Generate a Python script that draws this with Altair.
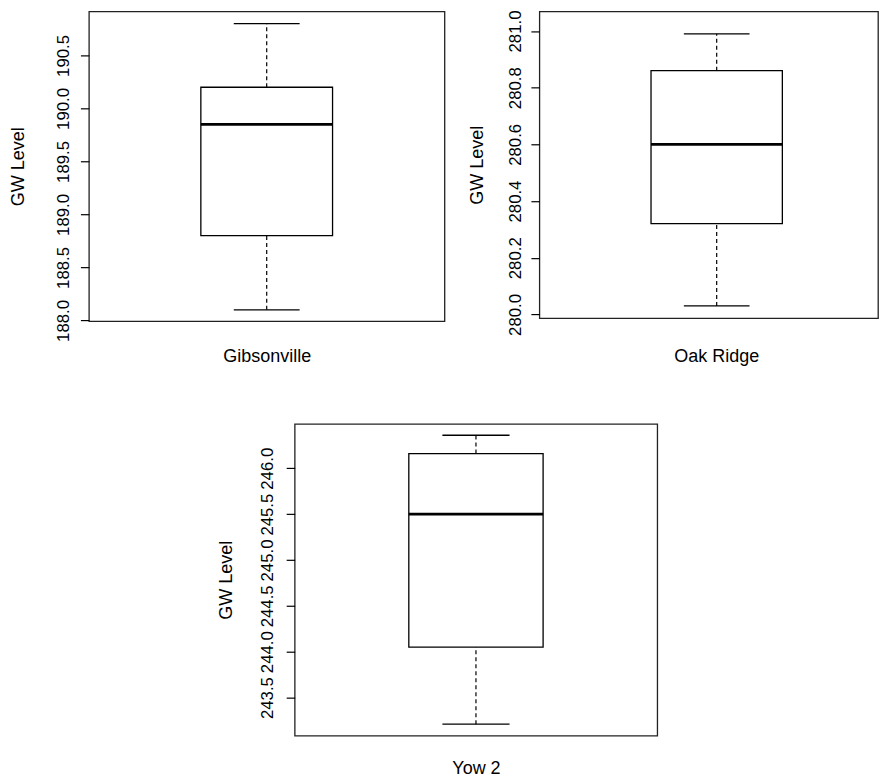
import altair as alt
import pandas as pd

# ---- data (box-plot summary statistics) ----
sites = ["Gibsonville", "Oak Ridge", "Yow 2"]
whisker_low = [188.10, 280.03, 243.21]
q1_vals = [188.80, 280.32, 244.05]
median_vals = [189.85, 280.60, 245.50]
q3_vals = [190.20, 280.86, 246.16]
whisker_high = [190.80, 280.99, 246.36]
tick_values = [
    [188.0, 188.5, 189.0, 189.5, 190.0, 190.5],
    [280.0, 280.2, 280.4, 280.6, 280.8, 281.0],
    [243.5, 244.0, 244.5, 245.0, 245.5, 246.0],
]
y_domains = [[187.994, 190.915], [279.987, 281.069], [243.085, 246.483]]
y_title = "GW Level"

FONT = "Liberation Sans"
FS_LAB = 16.8
FS_TIT = 18


def panel(i, width, height, x_domain, title_x, label_pad, xtitle_x, xtitle_y):
    df = pd.DataFrame({
        "lo": [whisker_low[i]], "q1": [q1_vals[i]], "med": [median_vals[i]],
        "q3": [q3_vals[i]], "hi": [whisker_high[i]],
    })
    xs = alt.Scale(domain=x_domain, nice=False, zero=False)
    ys = alt.Scale(domain=y_domains[i], nice=False, zero=False)
    xaxis = alt.Axis(
        title=sites[i], labels=False, ticks=False, domain=False, grid=False,
        titleFont=FONT, titleFontSize=FS_TIT, titleFontWeight="normal", titleColor="black",
        titleX=xtitle_x, titleY=xtitle_y, titleBaseline="alphabetic", titleAlign="center",
    )
    yaxis = alt.Axis(
        title=y_title, values=tick_values[i], format=".1f",
        labelAngle=270, labelAlign="center", labelBaseline="alphabetic",
        labelPadding=label_pad, tickSize=8.5, tickColor="black", tickWidth=1.2,
        domain=False, grid=False, labelFont=FONT, labelFontSize=FS_LAB, labelColor="black",
        labelOverlap=False, labelFlush=False,
        titleFont=FONT, titleFontSize=FS_TIT, titleFontWeight="normal", titleColor="black",
        titleAngle=270, titleX=title_x, titleY=height / 2, titleBaseline="middle",
        titleAlign="center",
    )

    def X(v):
        return alt.X(datum=v, type="quantitative", scale=xs, axis=xaxis)

    def Y(f):
        return alt.Y(field=f, type="quantitative", scale=ys, axis=yaxis)

    base = alt.Chart(df)
    whisk_hi = base.mark_rule(color="black", strokeWidth=1.2, strokeDash=[4, 3]).encode(
        x=X(1.0), y=Y("q3"), y2=alt.Y2(field="hi"))
    whisk_lo = base.mark_rule(color="black", strokeWidth=1.2, strokeDash=[4, 3]).encode(
        x=X(1.0), y=Y("lo"), y2=alt.Y2(field="q1"))
    box = base.mark_rect(fill="white", stroke="black", strokeWidth=1.3).encode(
        x=X(0.8), x2=alt.X2(datum=1.2), y=Y("q1"), y2=alt.Y2(field="q3"))
    med = base.mark_rule(color="black", strokeWidth=2.6).encode(
        x=X(0.8), x2=alt.X2(datum=1.2), y=Y("med"))
    cap_hi = base.mark_rule(color="black", strokeWidth=1.3).encode(
        x=X(0.9), x2=alt.X2(datum=1.1), y=Y("hi"))
    cap_lo = base.mark_rule(color="black", strokeWidth=1.3).encode(
        x=X(0.9), x2=alt.X2(datum=1.1), y=Y("lo"))
    return alt.layer(whisk_hi, whisk_lo, box, med, cap_hi, cap_lo).properties(
        width=width, height=height)


# Oak Ridge panel is cut at the right edge in the reference: keep scale px/unit,
# shorten the visible width.
p2_w = 339
p1 = panel(0, 356, 310, [0.46, 1.54], -70, 12, 178, 40)
p2 = panel(1, p2_w, 307, [0.46, 0.46 + 1.08 * p2_w / 355], -62, 10, 177, 43)
p3 = panel(2, 363, 312, [0.46, 1.54], -68, 14, 181.5, 38)

spacer = alt.Chart(pd.DataFrame({"v": [0]})).mark_point(opacity=0).encode(
    x=alt.value(0), y=alt.value(0)
).properties(width=50, height=10,
             view=alt.ViewBackground(stroke="transparent", fill="transparent"))

row1 = alt.hconcat(p1, p2, spacing=22)
row2 = alt.hconcat(spacer, p3, spacing=77)

chart = alt.vconcat(row1, row2, spacing=54).properties(
    padding={"left": 1, "top": 0, "right": 0, "bottom": 0},
    background="white",
).configure_view(stroke="#222222", strokeWidth=1.3, fill="white")

chart.save("out.html", embed_options={"renderer": "svg", "actions": False})
